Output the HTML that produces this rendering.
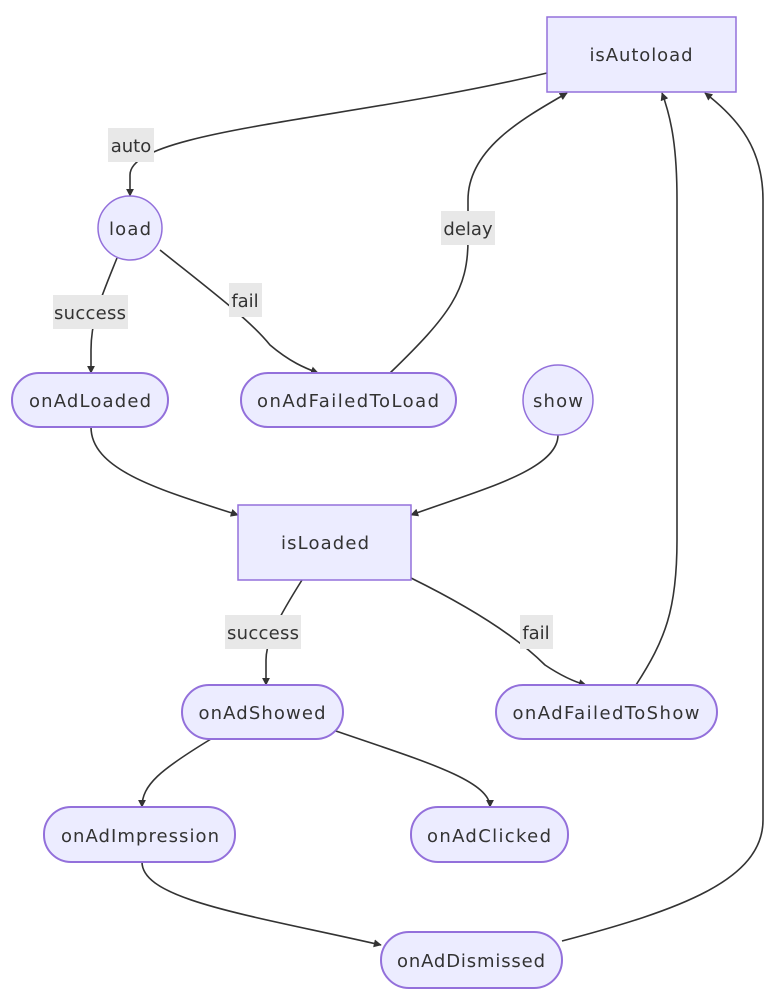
<!DOCTYPE html>
<html><head><meta charset="utf-8"><style>
html,body{margin:0;padding:0;background:#fff;}
svg{display:block;}
text{font-family:"DejaVu Sans","Liberation Sans",sans-serif;font-size:18px;fill:#333;}
.n{fill:#ECECFF;stroke:#9370DB;stroke-width:1.5;}
.s{fill:#ECECFF;stroke:#9370DB;stroke-width:2;}
.e{fill:none;stroke:#333;stroke-width:1.6;}
.lb{fill:#e8e8e8;}
</style></head><body>
<svg width="774" height="1004" viewBox="0 0 774 1004" xmlns="http://www.w3.org/2000/svg">
<defs><marker id="a" viewBox="0 0 10 10" refX="9" refY="5" markerWidth="8" markerHeight="8" markerUnits="userSpaceOnUse" orient="auto"><path d="M0,0L10,5L0,10z" fill="#333"/></marker></defs>
<!-- edges -->
<path class="e" marker-end="url(#a)" d="M547,73 C 350,120 130,130 130,175 L130,196"/>
<path class="e" marker-end="url(#a)" d="M117,258 C 100,300 91,320 91,350 L91,373"/>
<path class="e" marker-end="url(#a)" d="M160,250 C 210,290 250,320 270,345 C 290,362 305,368 318,373"/>
<path class="e" marker-end="url(#a)" d="M390,373 C 450,315 468,290 468,240 L468,200 C 468,150 520,120 567,93"/>
<path class="e" marker-end="url(#a)" d="M91,427 C 91,470 160,490 238,515"/>
<path class="e" marker-end="url(#a)" d="M558,435 C 558,470 480,490 411,515"/>
<path class="e" marker-end="url(#a)" d="M302,580 C 280,615 266,640 266,660 L266,685"/>
<path class="e" marker-end="url(#a)" d="M411,578 C 480,612 520,640 545,665 C 560,675 575,682 586,685"/>
<path class="e" marker-end="url(#a)" d="M636,685 C 665,640 677,610 677,540 L677,200 C 677,150 672,120 662,93"/>
<path class="e" marker-end="url(#a)" d="M562,941 C 680,910 763,880 763,820 L763,200 C 763,150 740,120 705,93"/>
<path class="e" marker-end="url(#a)" d="M211,739 C 160,770 142,785 142,807"/>
<path class="e" marker-end="url(#a)" d="M333,730 C 420,760 490,780 490,807"/>
<path class="e" marker-end="url(#a)" d="M142,862 C 142,900 250,915 381,945"/>
<!-- edge labels -->
<rect class="lb" x="108" y="128" width="46" height="34"/><text x="131" y="152" text-anchor="middle">auto</text>
<rect class="lb" x="441" y="211" width="54" height="34"/><text x="468" y="235" text-anchor="middle">delay</text>
<rect class="lb" x="53" y="295" width="75" height="34"/><text x="90" y="319" text-anchor="middle" textLength="72">success</text>
<rect class="lb" x="229" y="283" width="33" height="34"/><text x="245" y="307" text-anchor="middle">fail</text>
<rect class="lb" x="225" y="615" width="76" height="34"/><text x="263" y="639" text-anchor="middle" textLength="72">success</text>
<rect class="lb" x="520" y="615" width="33" height="34"/><text x="536" y="639" text-anchor="middle">fail</text>
<!-- nodes -->
<rect class="n" x="547" y="17" width="189" height="75"/><text x="641" y="61" text-anchor="middle" textLength="103">isAutoload</text>
<circle class="n" cx="130" cy="228" r="32"/><text x="130" y="235" text-anchor="middle" textLength="42">load</text>
<rect class="s" x="12" y="373" width="156" height="54" rx="27"/><text x="90" y="407" text-anchor="middle" textLength="122">onAdLoaded</text>
<rect class="s" x="241" y="373" width="215" height="54" rx="27"/><text x="348" y="407" text-anchor="middle" textLength="182">onAdFailedToLoad</text>
<circle class="n" cx="558" cy="400" r="35"/><text x="558" y="407" text-anchor="middle" textLength="50">show</text>
<rect class="n" x="238" y="505" width="173" height="75"/><text x="325" y="549" text-anchor="middle" textLength="88">isLoaded</text>
<rect class="s" x="182" y="685" width="161" height="54" rx="27"/><text x="262" y="719" text-anchor="middle" textLength="127">onAdShowed</text>
<rect class="s" x="496" y="685" width="221" height="54" rx="27"/><text x="606" y="719" text-anchor="middle" textLength="187">onAdFailedToShow</text>
<rect class="s" x="44" y="807" width="191" height="55" rx="27"/><text x="140" y="842" text-anchor="middle" textLength="158">onAdImpression</text>
<rect class="s" x="411" y="807" width="157" height="55" rx="27"/><text x="489" y="842" text-anchor="middle" textLength="124">onAdClicked</text>
<rect class="s" x="381" y="932" width="181" height="56" rx="28"/><text x="471" y="967" text-anchor="middle" textLength="148">onAdDismissed</text>
</svg>
</body></html>
